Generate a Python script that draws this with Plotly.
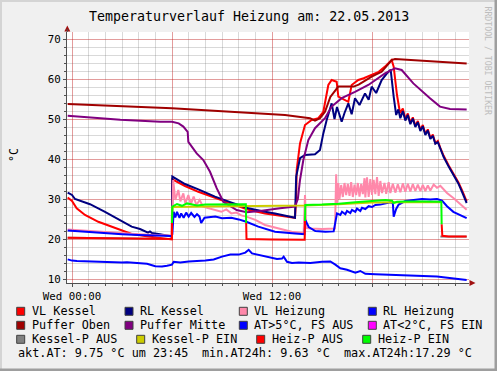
import plotly.graph_objects as go

# ---------------- data (hours since Wed 00:00, degC) ----------------
VL_KESSEL_T = [-0.26, 0.0, 0.28, 0.78, 1.58, 2.58, 3.58, 4.58, 5.5, 5.98, 6.02, 6.78, 7.58, 8.58, 9.58,
               10.58, 11.58, 12.18, 13.38, 13.45, 13.48, 13.68, 13.98, 14.38, 14.78, 15.08, 15.38, 15.58,
               15.88, 15.98, 16.3, 16.58, 16.78, 17.18, 17.5, 17.98, 18.4, 18.78, 19.18, 19.3, 19.5, 19.68,
               19.85, 20.0, 20.15, 20.3, 20.45, 20.6, 20.75, 20.9, 21.05, 21.2,
               21.35, 21.5, 21.65, 21.8, 21.95, 22.1, 22.3, 22.6, 22.9, 23.18, 23.4, 23.68]
VL_KESSEL_V = [30.4, 29.5, 27.7, 26.0, 24.3, 22.7, 21.25, 20.6, 20.1, 19.9, 34.9, 33.25, 31.8, 30.3, 28.75,
               27.3, 26.4, 26.0, 25.3, 30.0, 37.25, 43.9, 48.5, 49.75, 50.2, 51.8, 58.5, 59.75,
               59.3, 55.6, 55.0, 54.3, 58.5, 59.75, 60.2, 61.0, 61.8, 63.1, 64.75, 63.1, 56.0, 51.5,
               52.6, 50.0, 51.4, 49.0, 50.4, 48.3, 49.5, 47.3, 48.5, 46.3,
               47.4, 45.3, 46.1, 44.0, 44.5, 42.8, 40.8, 38.4, 36.3, 34.2, 32.2, 29.4]

RL_KESSEL_T = [-0.26, 0.0, 0.18, 1.08, 1.98, 2.88, 3.58, 4.08, 4.56, 4.68, 4.8, 5.28, 5.94, 6.0, 6.02,
               6.78, 7.58, 8.58, 9.58, 10.58, 11.58, 12.18, 13.38, 13.45, 13.68, 13.98, 14.58, 14.88, 15.08,
               15.28, 15.58, 15.75, 15.9, 16.18, 16.35, 16.58, 16.78, 16.98, 17.25, 17.58, 17.8, 17.98,
               18.25, 18.58, 18.9, 19.12, 19.3, 19.45, 19.58, 19.7,
               19.85, 20.0, 20.15, 20.3, 20.45, 20.6, 20.75, 20.9, 21.05, 21.2, 21.35, 21.5, 21.65, 21.8,
               21.95, 22.1, 22.3, 22.6, 22.9, 23.18, 23.4, 23.68]
RL_KESSEL_V = [31.6, 31.0, 30.0, 28.7, 26.8, 24.75, 23.1, 22.5, 21.6, 21.9, 21.5, 21.2, 20.6, 20.6, 35.6,
               33.75, 32.4, 30.6, 29.1, 27.7, 26.8, 26.4, 25.3, 35.6, 40.2, 41.0, 41.2, 42.25, 46.4,
               49.75, 53.9, 50.0, 53.0, 49.3, 51.5, 53.9, 51.2, 55.2, 53.5, 56.4, 54.8, 58.1,
               56.5, 59.75, 61.4, 62.3, 55.6, 51.0, 52.4, 50.2,
               52.0, 49.6, 51.0, 48.7, 50.1, 48.0, 49.2, 47.0, 48.2, 46.0, 47.1, 45.0, 45.8, 43.8,
               44.2, 42.5, 40.5, 38.1, 36.0, 33.9, 31.8, 29.0]

VL_HEIZUNG_T = [-0.26, 1.0, 2.0, 3.0, 4.0, 5.0, 5.98, 6.02, 6.07, 6.2, 6.38, 6.5, 6.68, 6.8, 6.98, 7.13,
                7.3, 7.46, 7.66, 7.86, 8.16, 8.56, 8.96, 9.26, 9.56, 9.86, 10.16, 10.46, 11.0, 11.58, 12.48,
                13.18, 13.9, 13.98, 14.05, 14.3, 15.0, 15.78, 15.85, 15.9, 15.98, 16.05, 16.15, 16.25, 16.35,
                16.45, 16.55, 16.65, 16.75, 16.85, 16.95, 17.05, 17.15, 17.25, 17.35, 17.45, 17.55, 17.6,
                17.7, 17.8, 17.9, 18.0, 18.1, 18.2, 18.3, 18.4, 18.5, 18.6, 18.75, 18.85, 19.0, 19.1, 19.25,
                19.4, 19.55, 19.7, 19.85, 20.0, 20.15, 20.3, 20.45, 20.6, 20.75, 20.9, 21.05, 21.2, 21.35,
                21.5, 21.7, 21.9, 22.1, 22.5, 22.9, 23.3, 23.68]
VL_HEIZUNG_V = [22.4, 22.0, 21.7, 21.4, 21.2, 21.0, 20.9, 25.0, 34.75, 29.75, 32.25, 29.4, 31.4, 28.9, 31.0, 28.7,
                30.6, 28.5, 29.75, 28.1, 27.75, 27.25, 26.8, 27.4, 26.4, 26.6, 25.9, 25.6, 24.8, 23.5, 22.5,
                21.8, 21.5, 31.0, 22.8, 22.6, 22.5, 22.6, 36.2, 29.0, 34.0, 30.0, 33.5, 30.5, 34.0,
                31.0, 33.8, 30.8, 34.2, 30.5, 33.6, 31.0, 34.0, 30.6, 33.8, 31.2, 35.2, 30.4,
                35.4, 30.5, 35.0, 31.0, 34.8, 31.2, 35.5, 30.8, 34.5, 31.5, 34.0, 31.3, 34.2, 31.5, 33.8,
                31.6, 33.7, 31.7, 33.9, 31.8, 33.8, 31.9, 33.7, 32.0, 33.6, 32.0, 33.5, 32.0, 33.4,
                32.1, 33.6, 32.8, 33.3, 31.5, 30.2, 28.8, 27.3]

RL_HEIZUNG_T = [-0.26, 1.0, 2.0, 3.0, 4.0, 5.0, 5.98, 6.02, 6.1, 6.2, 6.3, 6.45, 6.55, 6.7, 6.85, 7.0,
                7.15, 7.35, 7.5, 7.65, 7.75, 7.95, 8.3, 8.6, 9.0, 9.56, 10.0, 10.46, 11.18, 12.18, 13.38,
                13.95, 14.0, 14.2, 14.6, 15.2, 15.7, 15.8, 15.9, 16.1, 16.2, 16.4, 16.5, 16.7, 16.8, 17.0,
                17.1, 17.3, 17.4, 17.6, 17.8, 18.0, 18.2, 18.5, 18.8, 19.1, 19.25, 19.3, 19.45, 19.6, 20.0,
                20.5, 21.0, 21.5, 21.9, 22.2, 22.5, 22.88, 23.3, 23.68]
RL_HEIZUNG_V = [22.1, 21.7, 21.4, 21.2, 21.0, 20.9, 20.75, 21.2, 26.8, 25.4, 26.8, 25.3, 26.4, 25.3, 26.6, 25.6,
                26.5, 25.5, 26.2, 25.6, 24.0, 25.3, 25.4, 25.6, 25.2, 25.3, 24.9, 24.3, 23.1, 21.8, 21.4,
                21.2, 24.75, 23.0, 22.0, 21.8, 21.9, 24.5, 26.4, 26.0, 26.8, 26.2, 27.0, 26.5, 27.3, 26.8,
                27.6, 27.0, 27.8, 27.5, 28.2, 28.0, 28.5, 28.6, 28.9, 29.2, 29.0, 25.6, 27.5, 28.6, 29.5,
                29.8, 30.0, 29.9, 30.0, 29.6, 28.2, 26.8, 26.0, 25.2]

PUFFER_OBEN_T = [-0.26, 6.0, 12.78, 14.28, 14.58, 14.88, 15.18, 15.5, 15.98, 16.9, 17.2, 17.98, 18.58,
                 19.18, 19.38, 23.68]
PUFFER_OBEN_V = [53.75, 52.7, 51.0, 50.2, 49.6, 50.2, 51.8, 55.5, 58.1, 58.1, 58.6, 60.6, 61.8,
                 64.75, 65.0, 63.9]

PUFFER_MITTE_T = [-0.26, 2.9, 5.3, 6.0, 6.4, 6.68, 6.94, 6.98, 7.48, 7.88, 8.28, 8.68, 9.08, 9.88, 10.48,
                  11.28, 12.48, 13.38, 13.55, 13.68, 13.88, 14.18, 14.58, 15.18, 15.58, 16.18, 16.98, 17.78,
                  18.78, 19.38, 19.78, 20.48, 21.48, 22.08, 22.68, 23.68]
PUFFER_MITTE_V = [50.8, 49.8, 49.3, 49.3, 48.9, 48.1, 46.8, 44.3, 41.4, 39.75, 36.8, 32.7, 29.3, 27.25, 26.7,
                  27.0, 27.7, 28.1, 30.0, 34.75, 39.75, 44.75, 47.7, 50.2, 53.1, 55.2, 56.8, 58.5,
                  61.4, 62.7, 62.25, 58.9, 55.2, 53.1, 52.5, 52.4]

AT_T = [-0.26, 0.0, 0.3, 1.3, 2.0, 3.0, 3.3, 4.0, 4.5, 5.0, 5.4, 5.7, 6.0, 6.1, 6.5, 7.0, 8.0, 8.5, 9.0,
        9.5, 10.0, 10.4, 10.6, 10.8, 11.2, 11.6, 12.0, 12.3, 12.6, 12.7, 12.9, 13.2, 13.6, 14.3, 15.0,
        15.5, 15.8, 16.1, 16.5, 17.0, 17.3, 17.6, 18.2, 19.0, 20.0, 21.0, 21.9, 22.4, 22.9, 23.4, 23.68]
AT_V = [14.9, 14.6, 14.5, 14.3, 14.2, 14.1, 14.2, 14.0, 13.8, 13.2, 13.1, 13.3, 13.6, 14.3, 14.1, 14.4, 14.6, 14.9, 15.6,
        16.1, 16.1, 16.6, 17.29, 16.4, 16.0, 15.7, 15.3, 15.0, 15.1, 15.6, 14.3, 14.0, 14.1, 14.0, 14.3,
        14.4, 13.6, 12.7, 12.3, 11.6, 12.0, 11.3, 11.2, 11.1, 11.0, 10.8, 10.6, 10.4, 10.2, 10.0, 9.75]

KESSEL_AUS_T = [-0.26, 6.0, None, 22.1, 23.68]
KESSEL_AUS_V = [20.3, 20.0, None, 20.6, 20.6]
KESSEL_EIN_T = [6.0, 6.02, 8.0, 10.0, 12.0, 14.0, 16.0, 18.0, 20.0, 22.1]
KESSEL_EIN_V = [24.0, 28.0, 28.1, 28.2, 28.3, 28.4, 28.7, 29.1, 29.2, 29.2]
HEIZ_AUS_T = [-0.26, 6.0, 6.0, None, 10.45, 10.47, 12.0, 13.96, 13.98, None, 22.18, 22.22, 22.6, 23.68]
HEIZ_AUS_V = [20.3, 20.0, 24.0, None, 24.0, 20.0, 19.9, 19.8, 24.5, None, 23.7, 20.8, 20.6, 20.6]
HEIZ_EIN_T = [6.0, 6.02, 6.3, 6.6, 6.9, 7.5, 8.0, 9.0, 10.0, 10.43, 10.45, None, 13.98, 14.0, 15.0, 16.0,
              17.0, 18.0, 18.8, 19.2, 19.3, 19.5, 20.0, 21.0, 22.16, 22.18]
HEIZ_EIN_V = [24.0, 28.1, 28.75, 28.3, 28.9, 28.4, 28.6, 28.6, 28.7, 28.7, 24.0, None, 24.5, 28.5, 28.6, 28.8,
              29.2, 29.5, 29.75, 29.6, 29.0, 29.3, 29.4, 29.4, 29.3, 23.7]
AT_COLD_T = []
AT_COLD_V = []

X_TICKS = [0, 6, 12, 18]
X_TICK_TEXT = ["Wed 00:00", "", "Wed 12:00", ""]
Y_TICKS = [10, 20, 30, 40, 50, 60, 70]

LEGEND_ROWS = [
    [("VL Kessel", "#FF0000"), ("RL Kessel", "#000080"), ("VL Heizung", "#FF88AA"), ("RL Heizung", "#0000FF")],
    [("Puffer Oben", "#A00000"), ("Puffer Mitte", "#800080"), ("AT>5°C, FS AUS", "#0000FF"), ("AT<2°C, FS EIN", "#FF00FF")],
    [("Kessel-P AUS", "#808080"), ("Kessel-P EIN", "#CCCC00"), ("Heiz-P AUS", "#FF0000"), ("Heiz-P EIN", "#00FF00")],
]
STATS = ["akt.AT: 9.75 °C um 23:45", "min.AT24h: 9.63 °C", "max.AT24h:17.29 °C"]
TITLE = "Temperaturverlauf Heizung am: 22.05.2013"

# ---------------- figure ----------------
W, H = 497, 371
L, R, T, B = 67, 469, 32, 283
FONT = "DejaVu Sans Mono"


def px(x):
    return (x - L) / (R - L)


def py(y):
    return (B - y) / (B - T)


series = [
    (VL_KESSEL_T, VL_KESSEL_V, "#FF0000"),
    (RL_KESSEL_T, RL_KESSEL_V, "#000080"),
    (VL_HEIZUNG_T, VL_HEIZUNG_V, "#FF88AA"),
    (RL_HEIZUNG_T, RL_HEIZUNG_V, "#0000FF"),
    (PUFFER_OBEN_T, PUFFER_OBEN_V, "#A00000"),
    (PUFFER_MITTE_T, PUFFER_MITTE_V, "#800080"),
    (AT_T, AT_V, "#0000FF"),
    (AT_COLD_T, AT_COLD_V, "#FF00FF"),
    (KESSEL_AUS_T, KESSEL_AUS_V, "#808080"),
    (KESSEL_EIN_T, KESSEL_EIN_V, "#CCCC00"),
    (HEIZ_AUS_T, HEIZ_AUS_V, "#FF0000"),
    (HEIZ_EIN_T, HEIZ_EIN_V, "#00FF00"),
]

fig = go.Figure()
for t, v, c in series:
    assert len(t) == len(v), (len(t), len(v), c)
    fig.add_trace(go.Scatter(x=t, y=v, mode="lines", line=dict(color=c, width=2),
                             showlegend=False, hoverinfo="skip", connectgaps=False))

t_hours = (R - L) / 16.6667
x0 = (L - 72) / 16.6667
y_top = 10 + (279 - T) / 4.0
y_bot = 10 + (279 - B) / 4.0

MAJ = "rgba(255,0,0,0.28)"
MIN = "rgba(120,120,120,0.28)"
AX = "#505050"

fig.update_layout(
    width=W, height=H,
    margin=dict(l=L, r=W - R, t=T, b=H - B, pad=0),
    paper_bgcolor="#F0F0F0", plot_bgcolor="#FFFFFF",
    font=dict(family=FONT, size=11, color="#000000"),
    xaxis=dict(range=[x0, x0 + t_hours], tickmode="array", tickvals=X_TICKS, ticktext=X_TICK_TEXT,
               showgrid=True, gridcolor=MAJ, gridwidth=1, zeroline=False,
               showline=True, linecolor=AX, linewidth=1, ticks="outside", ticklen=3, tickcolor=AX,
               tickfont=dict(family=FONT, size=10.8),
               minor=dict(dtick=1, tick0=0, showgrid=True, gridcolor=MIN, gridwidth=1,
                          ticks="outside", ticklen=2, tickcolor=AX)),
    yaxis=dict(range=[y_bot, y_top], tickmode="array", tickvals=Y_TICKS,
               showgrid=True, gridcolor=MAJ, gridwidth=1, zeroline=False,
               showline=True, linecolor=AX, linewidth=1, ticks="outside", ticklen=3, tickcolor=AX,
               tickfont=dict(family=FONT, size=10.8),
               minor=dict(dtick=2, tick0=10, showgrid=True, gridcolor=MIN, gridwidth=1,
                          ticks="outside", ticklen=2, tickcolor=AX)),
)

shapes = []
ann = []

# frame
shapes.append(dict(type="rect", xref="paper", yref="paper", x0=px(0), x1=px(2), y0=py(H), y1=py(0),
                   fillcolor="#D4D4D4", line=dict(width=0), layer="above"))
shapes.append(dict(type="rect", xref="paper", yref="paper", x0=px(0), x1=px(W), y0=py(2), y1=py(0),
                   fillcolor="#D4D4D4", line=dict(width=0), layer="above"))
shapes.append(dict(type="rect", xref="paper", yref="paper", x0=px(W - 2.5), x1=px(W), y0=py(H), y1=py(0),
                   fillcolor="#9E9E9E", line=dict(width=0), layer="above"))
shapes.append(dict(type="rect", xref="paper", yref="paper", x0=px(0), x1=px(W), y0=py(H), y1=py(H - 2.5),
                   fillcolor="#9E9E9E", line=dict(width=0), layer="above"))


def path(points):
    return "M " + " L ".join(f"{px(a):.5f},{py(b):.5f}" for a, b in points) + " Z"


# axis arrows
shapes.append(dict(type="path", xref="paper", yref="paper", path=path([(67.3, 25.5), (64.3, 31.5), (70.3, 31.5)]),
                   fillcolor="#A01010", line=dict(width=0), layer="above"))
shapes.append(dict(type="line", xref="paper", yref="paper", x0=px(67.3), x1=px(67.3), y0=py(32), y1=py(29),
                   line=dict(color=AX, width=1), layer="above"))
shapes.append(dict(type="path", xref="paper", yref="paper", path=path([(475.5, 283), (469.5, 280), (469.5, 286)]),
                   fillcolor="#A01010", line=dict(width=0), layer="above"))

# title
ann.append(dict(text=TITLE, xref="paper", yref="paper", x=px(249), y=py(16.5), showarrow=False,
                xanchor="center", yanchor="middle", font=dict(family=FONT, size=13.3, color="#000000")))
# y axis unit
ann.append(dict(text="°C", xref="paper", yref="paper", x=px(13.5), y=py(155.5), showarrow=False,
                textangle=-90, xanchor="center", yanchor="middle", font=dict(family=FONT, size=11.5)))
# watermark
ann.append(dict(text="RRDTOOL / TOBI OETIKER", xref="paper", yref="paper", x=px(487.5), y=py(61),
                showarrow=False, textangle=90, xanchor="center", yanchor="middle",
                font=dict(family=FONT, size=8.2, color="#BDBDBD")))

# legend
ROW_Y = [311.3, 325.3, 339.3]
COL_X = [[16.7, 125, 239.3, 368.3], [16.7, 125, 239.3, 368.3], [16.7, 136.7, 256.7, 362.7]]
for r, row in enumerate(LEGEND_ROWS):
    for c, (label, color) in enumerate(row):
        bx = COL_X[r][c]
        yc = ROW_Y[r]
        shapes.append(dict(type="rect", xref="paper", yref="paper", x0=px(bx), x1=px(bx + 8),
                           y0=py(yc + 4), y1=py(yc - 4), fillcolor=color,
                           line=dict(color="#404040", width=1), layer="above"))
        ann.append(dict(text=label, xref="paper", yref="paper", x=px(bx + 12.8), y=py(yc), showarrow=False,
                        xanchor="left", yanchor="middle", font=dict(family=FONT, size=11.8, color="#000000")))
STAT_X = [16.2, 199.5, 342.2]
for sx, s in zip(STAT_X, STATS):
    ann.append(dict(text=s, xref="paper", yref="paper", x=px(sx), y=py(353.3), showarrow=False,
                    xanchor="left", yanchor="middle", font=dict(family=FONT, size=11.8, color="#000000")))

fig.update_layout(shapes=shapes, annotations=ann)
fig.write_html("out.html", config={"displayModeBar": False, "staticPlot": True},
               post_script="document.body.style.margin='0';document.body.style.padding='0';"
                           "document.body.style.overflow='hidden';")
